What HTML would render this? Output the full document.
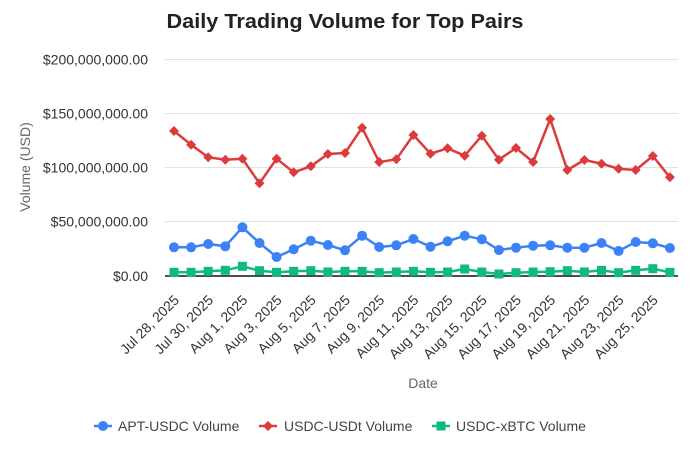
<!DOCTYPE html>
<html>
<head>
<meta charset="utf-8">
<style>
  html, body { margin: 0; padding: 0; background: #ffffff; }
  svg { display: block; }
  text { font-family: "Liberation Sans", "DejaVu Sans", sans-serif; }
</style>
</head>
<body>
<svg width="690" height="459" viewBox="0 0 690 459" xmlns="http://www.w3.org/2000/svg">
  <defs>
    <marker id="mBlue" markerUnits="userSpaceOnUse" markerWidth="12" markerHeight="12" refX="6" refY="6" overflow="visible">
      <circle cx="6" cy="6" r="5" fill="#3b82f6"/>
    </marker>
    <marker id="mRed" markerUnits="userSpaceOnUse" markerWidth="12" markerHeight="12" refX="6" refY="6" overflow="visible">
      <polygon points="6,1 11,6 6,11 1,6" fill="#dc3b3b"/>
    </marker>
    <marker id="mGreen" markerUnits="userSpaceOnUse" markerWidth="12" markerHeight="12" refX="6" refY="6" overflow="visible">
      <rect x="1.5" y="1.5" width="9" height="9" fill="#10b981"/>
    </marker>
  </defs>

  <!-- Title -->
  <text x="345" y="28" text-anchor="middle" font-size="20" font-weight="bold" fill="#222" textLength="357" lengthAdjust="spacingAndGlyphs">Daily Trading Volume for Top Pairs</text>

  <!-- Gridlines -->
  <g stroke="#e2e2e2" stroke-width="1">
    <line x1="165" y1="59.5" x2="678" y2="59.5"/>
    <line x1="165" y1="113.5" x2="678" y2="113.5"/>
    <line x1="165" y1="167.5" x2="678" y2="167.5"/>
    <line x1="165" y1="221.5" x2="678" y2="221.5"/>
  </g>
  <line x1="165" y1="276" x2="678" y2="276" stroke="#111" stroke-width="1.5"/>

  <!-- Y tick labels -->
  <g font-size="14" fill="#333" text-anchor="end">
    <text x="148" y="64.5">$200,000,000.00</text>
    <text x="148" y="118.5">$150,000,000.00</text>
    <text x="148" y="172.5">$100,000,000.00</text>
    <text x="148" y="226.5">$50,000,000.00</text>
    <text x="148" y="281">$0.00</text>
  </g>

  <!-- Y axis title -->
  <text x="0" y="0" transform="translate(30,167) rotate(-90)" text-anchor="middle" font-size="14" fill="#666">Volume (USD)</text>

  <!-- X tick labels -->
  <g font-size="14" fill="#333" text-anchor="end">
    <text transform="translate(180,301) rotate(-45)">Jul 28, 2025</text>
    <text transform="translate(214.2,301) rotate(-45)">Jul 30, 2025</text>
    <text transform="translate(248.4,301) rotate(-45)">Aug 1, 2025</text>
    <text transform="translate(282.6,301) rotate(-45)">Aug 3, 2025</text>
    <text transform="translate(316.8,301) rotate(-45)">Aug 5, 2025</text>
    <text transform="translate(351,301) rotate(-45)">Aug 7, 2025</text>
    <text transform="translate(385.2,301) rotate(-45)">Aug 9, 2025</text>
    <text transform="translate(419.4,301) rotate(-45)">Aug 11, 2025</text>
    <text transform="translate(453.6,301) rotate(-45)">Aug 13, 2025</text>
    <text transform="translate(487.8,301) rotate(-45)">Aug 15, 2025</text>
    <text transform="translate(522,301) rotate(-45)">Aug 17, 2025</text>
    <text transform="translate(556.2,301) rotate(-45)">Aug 19, 2025</text>
    <text transform="translate(590.4,301) rotate(-45)">Aug 21, 2025</text>
    <text transform="translate(624.6,301) rotate(-45)">Aug 23, 2025</text>
    <text transform="translate(658.8,301) rotate(-45)">Aug 25, 2025</text>
  </g>

  <!-- X axis title -->
  <text x="423" y="388" text-anchor="middle" font-size="14" fill="#666">Date</text>

  <!-- Series: APT-USDC -->
  <polyline fill="none" stroke="#3b82f6" stroke-width="2.5" stroke-linejoin="round"
    marker-start="url(#mBlue)" marker-mid="url(#mBlue)" marker-end="url(#mBlue)"
    points="174,247.3 191.1,247.3 208.2,244 225.3,246.3 242.4,227.3 259.5,243 276.6,257 293.7,249.3 310.8,240.7 327.9,245 345,250.3 362.1,235.7 379.2,247 396.3,245.3 413.4,239 430.5,246.7 447.6,241.3 464.7,235.7 481.8,239.3 498.9,250 516,247.7 533.1,245.7 550.2,245.3 567.3,247.7 584.4,247.7 601.5,243 618.6,251 635.7,242 652.8,243.3 669.9,248"/>

  <!-- Series: USDC-USDt -->
  <polyline fill="none" stroke="#dc3b3b" stroke-width="2.5" stroke-linejoin="round"
    marker-start="url(#mRed)" marker-mid="url(#mRed)" marker-end="url(#mRed)"
    points="174,131 191.1,144.7 208.2,157.3 225.3,159.7 242.4,158.7 259.5,183.3 276.6,158.7 293.7,172.3 310.8,166.3 327.9,154 345,153 362.1,127.7 379.2,162 396.3,159.3 413.4,135 430.5,153.7 447.6,148.3 464.7,155.7 481.8,135.7 498.9,159.7 516,148 533.1,162 550.2,119 567.3,170 584.4,160 601.5,163.7 618.6,168.7 635.7,170 652.8,156 669.9,177.3"/>

  <!-- Series: USDC-xBTC -->
  <polyline fill="none" stroke="#10b981" stroke-width="2.5" stroke-linejoin="round"
    marker-start="url(#mGreen)" marker-mid="url(#mGreen)" marker-end="url(#mGreen)"
    points="174,272.3 191.1,272.3 208.2,271.3 225.3,270.3 242.4,266.3 259.5,270.7 276.6,272.3 293.7,271.3 310.8,270.7 327.9,272 345,271.3 362.1,271.3 379.2,272.7 396.3,272 413.4,271.3 430.5,272.3 447.6,272 464.7,269 481.8,272 498.9,274 516,272.7 533.1,272 550.2,271.7 567.3,270.7 584.4,272 601.5,270.3 618.6,272.7 635.7,270.3 652.8,268.7 669.9,272.3"/>

  <!-- Legend -->
  <g font-size="14" fill="#444">
    <line x1="94" y1="426" x2="112" y2="426" stroke="#3b82f6" stroke-width="2.5"/>
    <circle cx="103" cy="426" r="5" fill="#3b82f6"/>
    <text x="118" y="431">APT-USDC Volume</text>

    <line x1="259" y1="426" x2="277" y2="426" stroke="#dc3b3b" stroke-width="2.5"/>
    <polygon points="268,421 273,426 268,431 263,426" fill="#dc3b3b"/>
    <text x="284" y="431">USDC-USDt Volume</text>

    <line x1="432" y1="426" x2="450" y2="426" stroke="#10b981" stroke-width="2.5"/>
    <rect x="436.5" y="421.5" width="9" height="9" fill="#10b981"/>
    <text x="456" y="431">USDC-xBTC Volume</text>
  </g>
</svg>
</body>
</html>
